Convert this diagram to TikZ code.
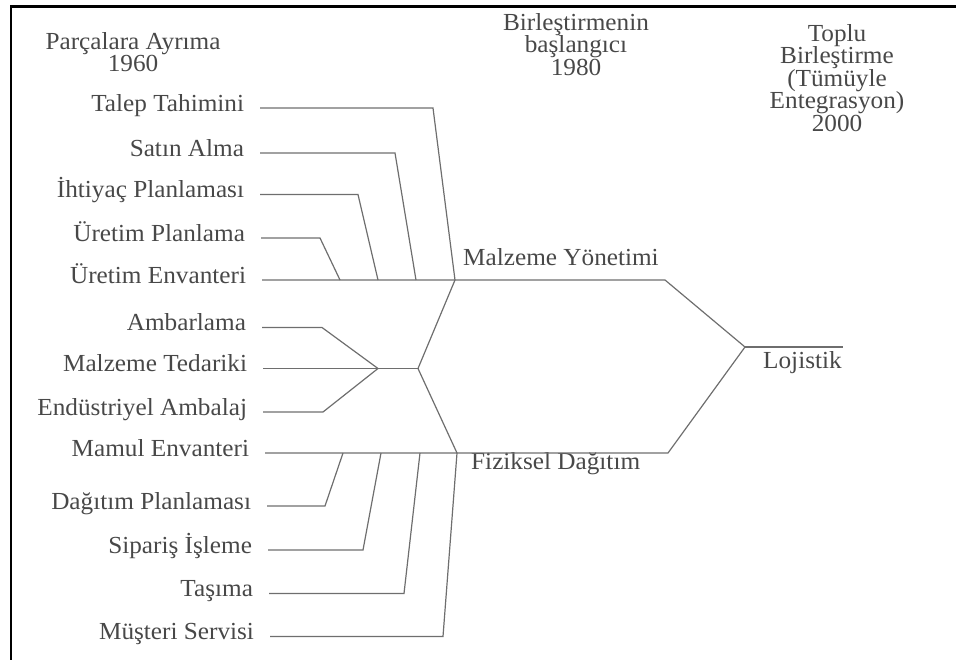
\documentclass[tikz,border=0pt]{standalone}
\usepackage{fontspec}
\setmainfont{Liberation Serif}[FakeStretch=1.03]
\definecolor{inkgray}{RGB}{72,72,72}
\definecolor{wiregray}{RGB}{110,110,110}
\begin{document}
\begin{tikzpicture}[x=1pt,y=-1pt,
  every node/.style={text=inkgray,font=\fontsize{24.5}{22.5}\selectfont},
  item/.style={anchor=east,inner sep=0pt,outer xsep=16pt,text height=0.66em,text depth=0pt},
  head/.style={anchor=north,inner sep=0pt,align=center},
  group/.style={anchor=west,inner sep=0pt,text height=0.66em,text depth=0pt},
  wire/.style={draw=wiregray,line width=1.2pt,line join=miter},
  frame/.style={draw=black,line width=2.6pt}]
\useasboundingbox (0,0) rectangle (956,660);

% outer frame (top and left edges)
\draw[frame] (956,6.5) -- (11,6.5) -- (11,660);

% period headings
\node[head] (h1) at (133,32) {Parçalara Ayrıma\\1960};
\node[head] (h2) at (576,13) {Birleştirmenin\\başlangıcı\\1980};
\node[head] (h3) at (837,24) {Toplu\\Birleştirme\\(Tümüyle\\Entegrasyon)\\2000};

% activities
\node[item] (l1)  at (260,108)   {Talep Tahimini};
\node[item] (l2)  at (260,153)   {Satın Alma};
\node[item] (l3)  at (260,194.5) {İhtiyaç Planlaması};
\node[item] (l4)  at (261,238)   {Üretim Planlama};
\node[item] (l5)  at (262,280)   {Üretim Envanteri};
\node[item] (l6)  at (262,327.5) {Ambarlama};
\node[item] (l7)  at (263,368.5) {Malzeme Tedariki};
\node[item] (l8)  at (263,412)   {Endüstriyel Ambalaj};
\node[item] (l9)  at (265,453)   {Mamul Envanteri};
\node[item] (l10) at (267,506)   {Dağıtım Planlaması};
\node[item] (l11) at (268,550)   {Sipariş İşleme};
\node[item] (l12) at (269,593.5) {Taşıma};
\node[item] (l13) at (270,636.5) {Müşteri Servisi};

% merged functions
\node[group] (my) at (463,262) {Malzeme Yönetimi};
\node[group] (fd) at (471,466) {Fiziksel Dağıtım};
\node[group] (lj) at (763,365) {Lojistik};

% junction points
\coordinate (mj)  at (455,280);
\coordinate (me)  at (665,280);
\coordinate (tj)  at (378,368.5);
\coordinate (tk)  at (418,368.5);
\coordinate (fj)  at (457,453);
\coordinate (fe)  at (668,453);
\coordinate (lg)  at (745,347);
\coordinate (lge) at (843,347);

% material management branch
\draw[wire] (l1.east) -- ++(173,0) -- (mj);
\draw[wire] (l2.east) -- ++(135,0) -- (416,280);
\draw[wire] (l3.east) -- ++(98,0)  -- (378,280);
\draw[wire] (l4.east) -- ++(59,0)  -- (340,280);
\draw[wire] (l5.east) -- (me) -- (lg);

% shared middle group
\draw[wire] (l6.east) -- ++(60,0) -- (tj);
\draw[wire] (l8.east) -- ++(60,0) -- (tj);
\draw[wire] (l7.east) -- (tk);
\draw[wire] (mj) -- (tk) -- (fj);

% physical distribution branch
\draw[wire] (l9.east) -- (fe) -- (lg);
\draw[wire] (l10.east) -- ++(58,0) -- (343,453);
\draw[wire] (l11.east) -- ++(95,0) -- (381,453);
\draw[wire] (l12.east) -- ++(135,0) -- (420,453);
\draw[wire] (l13.east) -- ++(173,0) -- (fj);

% logistics
\draw[wire] (lg) -- (lge);
\end{tikzpicture}
\end{document}
